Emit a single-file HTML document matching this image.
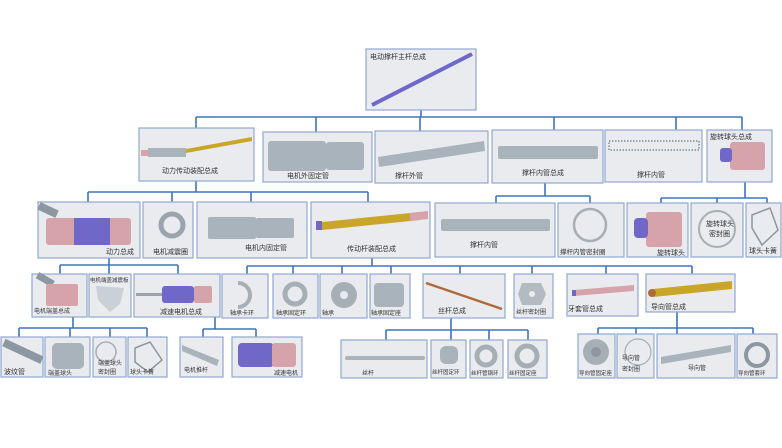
<!DOCTYPE html>
<html><head><meta charset="utf-8">
<style>
html,body{margin:0;padding:0;background:#fff;width:782px;height:448px;overflow:hidden}
svg{display:block}
text{font-family:"Liberation Sans","Noto Sans CJK SC",sans-serif;font-size:7px;fill:#333}
.b{fill:#e9ebef;stroke:#8fa8d0;stroke-width:1.2}
.l{stroke:#3f73bf;stroke-width:1.6;fill:none}
.g{fill:#a9b3bc}
.gd{fill:#8c97a1}
.p{fill:#d7a3ab}
.v{fill:#6f68c8}
.y{fill:#c9a52a}
</style></head><body>
<svg width="782" height="448" viewBox="0 0 782 448" xmlns="http://www.w3.org/2000/svg">
<!-- connectors -->
<g class="l">
<path d="M421 110V117M196 117H742M196 117V128M316 117V132M420 117V131M554 117V130M676 117V130M742 117V130"/>
<path d="M196 181V192M88 192H368M88 192V202M172 192V202M251 192V202M368 192V202"/>
<path d="M545 183V196M496 196H590M496 196V203M590 196V203"/>
<path d="M745 182V198M661 198H767M661 198V203M717 198V203M767 198V203"/>
<path d="M109 258V265M60 265H178M60 265V274M109 265V274M178 265V274"/>
<path d="M372 258V266M247 266H692M247 266V274M293 266V274M342 266V274M391 266V274M460 266V274M532 266V274M606 266V274M692 266V274"/>
<path d="M73 317V328M19 328H147M19 328V337M70 328V337M110 328V337M147 328V337"/>
<path d="M215 317V329M203 329H256M203 329V337M256 329V337"/>
<path d="M451 318V330M386 330H528M386 330V340M451 330V340M489 330V340M528 330V340"/>
<path d="M677 312V328M598 328H753M598 328V334M636 328V334M677 328V334M753 328V334"/>
</g>
<!-- root -->
<rect class="b" x="366" y="49" width="110" height="61"/>
<text x="370" y="59">电动撑杆主杆总成</text>
<line x1="372" y1="105" x2="472" y2="54" stroke="#6f68c8" stroke-width="4"/>
<!-- row1 -->
<rect class="b" x="139" y="128" width="115" height="53"/>
<rect class="g" x="148" y="148" width="38" height="9"/>
<rect class="p" x="141" y="150" width="8" height="6"/>
<polygon class="y" points="186,149 252,137 252,141 186,153"/>
<text x="162" y="173">动力传动装配总成</text>
<rect class="b" x="263" y="132" width="109" height="50"/>
<rect class="g" x="268" y="141" width="58" height="30" rx="3"/>
<rect class="g" x="326" y="142" width="38" height="28" rx="3"/>
<text x="287" y="178">电机外固定管</text>
<rect class="b" x="375" y="131" width="113" height="52"/>
<polygon class="g" points="378,157 484,141 485,151 379,167"/>
<text x="395" y="178">撑杆外管</text>
<rect class="b" x="492" y="130" width="111" height="53"/>
<rect class="g" x="498" y="146" width="100" height="13" rx="2"/>
<text x="522" y="175">撑杆内管总成</text>
<rect class="b" x="605" y="130" width="97" height="52"/>
<rect x="609" y="141" width="90" height="9" fill="none" stroke="#9aa4ad" stroke-width="2" stroke-dasharray="1.5 1.5"/>
<text x="637" y="177">撑杆内管</text>
<rect class="b" x="707" y="130" width="65" height="52"/>
<text x="710" y="139">旋转球头总成</text>
<rect class="p" x="730" y="142" width="35" height="28" rx="3"/>
<rect class="v" x="720" y="148" width="12" height="14" rx="3"/>
<!-- row2 -->
<rect class="b" x="38" y="202" width="102" height="56"/>
<rect class="gd" x="38" y="206" width="20" height="8" transform="rotate(25 48 210)"/>
<rect class="p" x="46" y="218" width="85" height="27" rx="3"/>
<rect class="v" x="74" y="218" width="36" height="27"/>
<text x="106" y="254">动力总成</text>
<rect class="b" x="143" y="202" width="50" height="56"/>
<circle cx="172" cy="225" r="11" fill="none" stroke="#9aa4ad" stroke-width="5"/>
<text x="153" y="254">电机减震圈</text>
<rect class="b" x="197" y="202" width="110" height="56"/>
<rect class="g" x="208" y="217" width="48" height="22" rx="2"/>
<rect class="g" x="256" y="218" width="38" height="20" rx="2"/>
<text x="245" y="250">电机内固定管</text>
<rect class="b" x="311" y="202" width="119" height="56"/>
<rect class="v" x="316" y="221" width="6" height="9"/>
<polygon class="y" points="322,222 420,212 420,220 322,230"/>
<polygon class="p" points="410,213 428,211 428,219 410,221"/>
<text x="347" y="251">传动杆装配总成</text>
<rect class="b" x="435" y="203" width="120" height="54"/>
<rect class="g" x="441" y="219" width="109" height="12" rx="2"/>
<text x="470" y="247">撑杆内管</text>
<rect class="b" x="558" y="203" width="66" height="54"/>
<circle cx="590" cy="225" r="16" fill="none" stroke="#a6aeb6" stroke-width="2.5"/>
<text x="560" y="254" style="font-size:6.5px">撑杆内管密封圈</text>
<rect class="b" x="627" y="203" width="61" height="54"/>
<rect class="p" x="646" y="212" width="36" height="35" rx="3"/>
<rect class="v" x="634" y="218" width="14" height="20" rx="4"/>
<text x="657" y="255">旋转球头</text>
<rect class="b" x="691" y="203" width="52" height="54"/>
<circle cx="717" cy="229" r="18" fill="none" stroke="#a6aeb6" stroke-width="2"/>
<text x="706" y="226">旋转球头</text>
<text x="709" y="236">密封圈</text>
<rect class="b" x="746" y="203" width="35" height="54"/>
<path d="M752 215 L770 208 L778 230 L762 245 L752 228 Z" fill="none" stroke="#8c97a1" stroke-width="1.5"/>
<text x="749" y="253">球头卡簧</text>
<!-- row3 -->
<rect class="b" x="32" y="274" width="55" height="43"/>
<rect class="gd" x="36" y="276" width="18" height="7" transform="rotate(30 45 280)"/>
<rect class="p" x="46" y="284" width="32" height="22" rx="2"/>
<text x="34" y="313" style="font-size:6px">电机端盖总成</text>
<rect class="b" x="89" y="274" width="42" height="43"/>
<polygon points="96,286 124,288 120,304 110,312 98,300" fill="#c9d0d6"/>
<text x="90" y="282" style="font-size:5.5px">电机端盖减震板</text>
<rect class="b" x="134" y="274" width="86" height="43"/>
<rect x="136" y="293" width="30" height="3" fill="#9aa4ad"/>
<rect class="v" x="162" y="286" width="32" height="17" rx="3"/>
<rect class="p" x="194" y="286" width="18" height="17" rx="2"/>
<text x="160" y="314">减速电机总成</text>
<rect class="b" x="222" y="274" width="46" height="44"/>
<path d="M238 283 A11 11 0 1 1 238 307" fill="none" stroke="#a6aeb6" stroke-width="4"/>
<text x="230" y="315" style="font-size:6px">轴承卡环</text>
<rect class="b" x="273" y="274" width="45" height="44"/>
<circle cx="295" cy="294" r="10" fill="none" stroke="#a6aeb6" stroke-width="5"/>
<text x="276" y="315" style="font-size:6px">轴承固定环</text>
<rect class="b" x="320" y="274" width="47" height="44"/>
<circle cx="344" cy="295" r="13" fill="#a6aeb6"/><circle cx="344" cy="295" r="4" fill="#e9ebef"/>
<text x="322" y="315" style="font-size:6px">轴承</text>
<rect class="b" x="370" y="274" width="40" height="44"/>
<rect class="g" x="374" y="283" width="30" height="24" rx="4"/>
<text x="371" y="315" style="font-size:6px">轴承固定座</text>
<rect class="b" x="423" y="274" width="82" height="44"/>
<line x1="426" y1="283" x2="502" y2="309" stroke="#b06a3a" stroke-width="2.5"/>
<text x="438" y="313">丝杆总成</text>
<rect class="b" x="514" y="274" width="39" height="44"/>
<polygon points="522,283 541,283 546,294 541,305 522,305 518,294" fill="#b2bac2"/><circle cx="532" cy="294" r="3" fill="#e9ebef"/>
<text x="516" y="314" style="font-size:6px">丝杆密封圈</text>
<rect class="b" x="567" y="274" width="71" height="42"/>
<polygon class="p" points="574,290 634,285 634,291 574,296"/>
<rect class="v" x="572" y="290" width="4" height="6"/>
<text x="568" y="311">牙套管总成</text>
<rect class="b" x="646" y="274" width="89" height="38"/>
<polygon class="y" points="653,289 732,281 732,289 653,297"/>
<circle cx="652" cy="293" r="4" fill="#b06a3a"/>
<text x="651" y="309">导向管总成</text>
<!-- row4 -->
<rect class="b" x="1" y="337" width="42" height="40"/>
<rect class="gd" x="2" y="347" width="42" height="8" transform="rotate(25 22 351)"/>
<text x="4" y="374">波纹管</text>
<rect class="b" x="45" y="337" width="45" height="40"/>
<rect class="g" x="52" y="343" width="32" height="26" rx="5"/>
<text x="48" y="375" style="font-size:6px">端盖球头</text>
<rect class="b" x="93" y="337" width="33" height="40"/>
<circle cx="106" cy="352" r="10" fill="none" stroke="#a6aeb6" stroke-width="1.5"/>
<text x="98" y="365" style="font-size:6px">端盖球头</text>
<text x="98" y="374" style="font-size:6px">密封圈</text>
<rect class="b" x="128" y="337" width="39" height="40"/>
<path d="M135 348 L150 342 L162 360 L148 372 L135 362 Z" fill="none" stroke="#8c97a1" stroke-width="1.5"/>
<text x="130" y="374" style="font-size:6px">球头卡簧</text>
<rect class="b" x="180" y="337" width="43" height="40"/>
<polygon class="g" points="182,345 219,360 217,366 182,351"/>
<text x="184" y="372" style="font-size:6px">电机推杆</text>
<rect class="b" x="232" y="337" width="70" height="40"/>
<rect class="v" x="238" y="343" width="36" height="24" rx="4"/>
<rect class="p" x="272" y="343" width="24" height="24" rx="3"/>
<text x="274" y="375" style="font-size:6px">减速电机</text>
<rect class="b" x="341" y="340" width="86" height="38"/>
<rect class="g" x="345" y="356" width="80" height="4" rx="2"/>
<text x="362" y="375" style="font-size:6px">丝杆</text>
<rect class="b" x="431" y="340" width="35" height="38"/>
<rect class="g" x="440" y="346" width="18" height="18" rx="6"/>
<text x="432" y="374" style="font-size:5.5px">丝杆固定环</text>
<rect class="b" x="470" y="340" width="33" height="38"/>
<circle cx="486" cy="356" r="9" fill="none" stroke="#a6aeb6" stroke-width="5"/>
<text x="471" y="375" style="font-size:5.5px">丝杆管钢环</text>
<rect class="b" x="508" y="340" width="39" height="38"/>
<circle cx="527" cy="356" r="10" fill="none" stroke="#a6aeb6" stroke-width="5"/>
<text x="509" y="375" style="font-size:5.5px">丝杆固定座</text>
<rect class="b" x="578" y="334" width="37" height="44"/>
<circle cx="596" cy="352" r="13" fill="#a6aeb6"/><circle cx="596" cy="352" r="5" fill="#8c97a1"/>
<text x="579" y="375" style="font-size:5.5px">导向管固定座</text>
<rect class="b" x="617" y="334" width="37" height="44"/>
<circle cx="638" cy="352" r="13" fill="none" stroke="#a6aeb6" stroke-width="1.2"/>
<text x="622" y="360" style="font-size:6px">导向管</text>
<text x="622" y="371" style="font-size:6px">密封圈</text>
<rect class="b" x="657" y="334" width="78" height="44"/>
<polygon class="g" points="661,357 731,345 731,352 661,364"/>
<text x="688" y="370" style="font-size:6px">导向管</text>
<rect class="b" x="737" y="334" width="40" height="44"/>
<circle cx="757" cy="355" r="11" fill="none" stroke="#8c97a1" stroke-width="4"/>
<text x="738" y="375" style="font-size:5.5px">导向管套环</text>
</svg>
</body></html>
